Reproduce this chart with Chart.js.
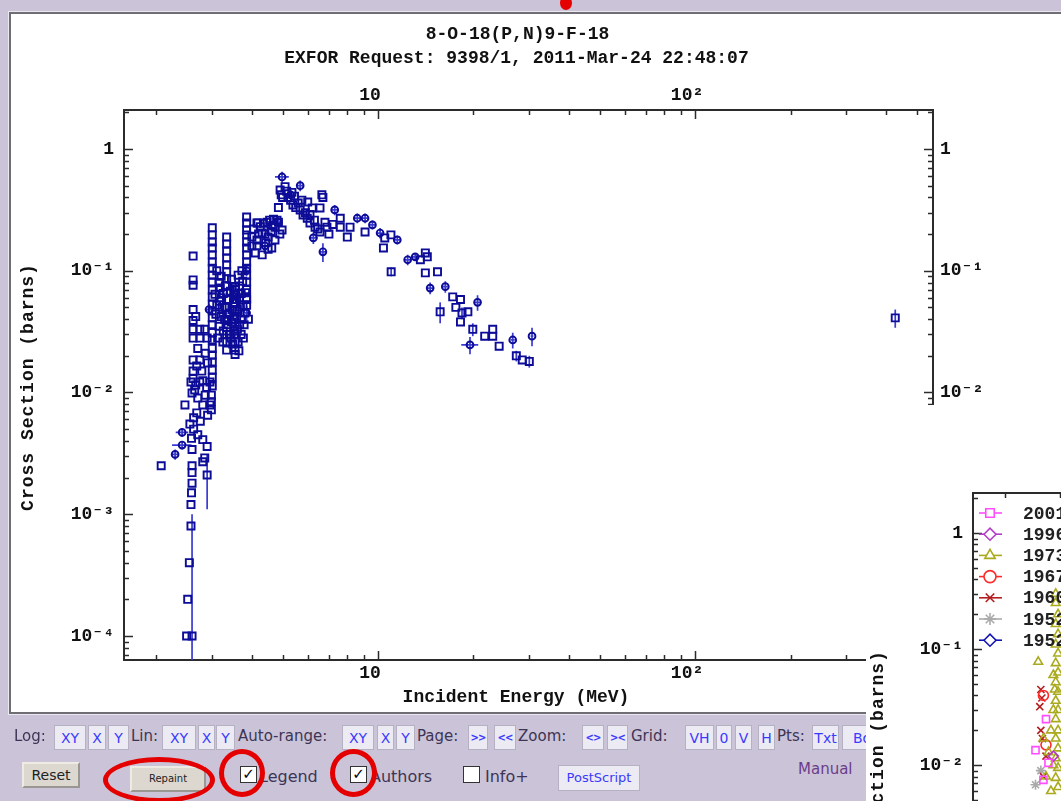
<!DOCTYPE html>
<html>
<head>
<meta charset="utf-8">
<script src="https://cdn.jsdelivr.net/npm/chart.js@4.4.1/dist/chart.umd.min.js"></script>
<style>
  body { margin: 0; width: 1061px; height: 801px; overflow: hidden; position: relative; background: #cbc3d7; font-family: 'DejaVu Sans', sans-serif }
  .abs { position: absolute }
  #panel { left: 9px; top: 12px; width: 1100px; height: 698px; background: #fff; border: 2px solid #6e6e74; box-shadow: 0 0 0 1px #ebe8f0 }
  .mono { font-family: 'Liberation Mono', 'DejaVu Sans Mono', monospace; font-weight: bold; font-size: 18px; line-height: 20px; color: #111; white-space: nowrap }
  .lbl { top: 727px; font-size: 15px; color: #3d3556; white-space: nowrap }
  .btn { top: 725px; height: 25px; line-height: 24px; text-align: center; background: #eceaf2; border: 1px solid #b5b1c2; color: #3a3aff; font-size: 14px; box-sizing: border-box; white-space: nowrap; overflow: hidden }
  .btn.small { font-size: 10px; font-weight: bold; letter-spacing: -1px }
  .gbtn { background: #dcd8d0; border: 2px outset #eeeae4; color: #222; text-align: center; box-sizing: border-box }
  .cb { width: 17px; height: 17px; background: #fff; border: 1px solid #333; box-sizing: border-box; font-size: 15px; line-height: 15px; text-align: center; color: #000; font-weight: bold }
  .ring { border: 5px solid #e40000; border-radius: 50%; box-sizing: border-box }
</style>
</head>
<body>
<div id="panel" class="abs"></div>
<canvas id="main" class="abs" style="left:0;top:0" width="1061" height="714"></canvas>

<div class="abs mono" style="left:0;width:1035px;top:24px;text-align:center">8-O-18(P,N)9-F-18</div>
<div class="abs mono" style="left:0;width:1033px;top:48px;text-align:center">EXFOR Request: 9398/1, 2011-Mar-24 22:48:07</div>
<div class="abs mono" style="left:366px;width:300px;top:687px;text-align:center">Incident Energy (MeV)</div>
<div class="abs mono" style="left:-122px;width:300px;top:377px;text-align:center;letter-spacing:1px;transform:rotate(-90deg)">Cross Section (barns)</div>

<div id="controls"></div>

<div class="abs gbtn" style="left:22px;top:762px;width:58px;height:26px;line-height:22px;font-size:14px">Reset</div>
<div class="abs gbtn" style="left:130px;top:766px;width:76px;height:26px;line-height:22px;font-size:10px">Repaint</div>
<div class="abs cb" style="left:240px;top:766px">✓</div>
<div class="abs" style="left:259px;top:767px;font-size:16px;color:#3d3556">Legend</div>
<div class="abs cb" style="left:350px;top:766px">✓</div>
<div class="abs" style="left:370px;top:767px;font-size:16px;color:#3d3556">Authors</div>
<div class="abs cb" style="left:463px;top:766px"></div>
<div class="abs" style="left:485px;top:767px;font-size:16px;color:#3d3556">Info+</div>
<div class="abs btn" style="left:558px;top:765px;width:82px;height:26px;font-size:13px">PostScript</div>
<div class="abs" style="left:798px;top:760px;font-size:15px;color:#6a3d8c">Manual</div>

<div class="abs ring" style="left:103px;top:757px;width:112px;height:46px"></div>
<div class="abs ring" style="left:219px;top:749px;width:46px;height:48px"></div>
<div class="abs ring" style="left:330px;top:749px;width:47px;height:48px"></div>
<div class="abs" style="left:560px;top:-4px;width:12px;height:14px;background:#e40000;border-radius:50%"></div>

<div id="inset" class="abs" style="left:866px;top:405px;width:195px;height:396px;background:#fff;overflow:hidden">
  <canvas id="small" class="abs" style="left:0;top:0" width="700" height="600"></canvas>
  <div class="abs mono" style="left:-118px;width:260px;top:359px;text-align:center;letter-spacing:1px;transform:rotate(-90deg)">Cross Section (barns)</div>
</div>

<script>
// main plot: energy (MeV) / cross section (b)
const squares = [
  [2.07, 0.0025], [2.59, 0.0025], [2.59, 0.0022], [2.59, 0.0018], [2.58, 0.0015], [2.57, 0.0012], [2.57, 0.0008],
  [2.54, 0.0004], [2.51, 0.0002], [2.49, 0.0001], [2.59, 0.0034], [2.57, 0.0122], [2.74, 0.0122], [2.95, 0.0122],
  [2.59, 0.0099], [2.46, 0.0079], [2.80, 0.0079], [2.95, 0.0079], [2.68, 0.0068], [2.80, 0.0041], [2.89, 0.0036],
  [2.84, 0.0029], [2.80, 0.0027], [2.64, 0.0105], [2.70, 0.009], [2.85, 0.0095], [2.62, 0.0062], [2.75, 0.0058],
  [2.90, 0.0065], [2.55, 0.0055], [2.62, 0.005], [2.70, 0.0045], [2.58, 0.0042], [2.66, 0.0115], [2.88, 0.011],
  [2.61, 0.132], [2.61, 0.084], [2.61, 0.076], [2.61, 0.048], [2.61, 0.039], [2.61, 0.033], [2.61, 0.028],
  [2.61, 0.0185], [2.61, 0.015], [2.61, 0.013], [2.74, 0.033], [2.84, 0.033], [2.74, 0.028], [2.89, 0.028],
  [2.74, 0.0185], [2.78, 0.015], [2.66, 0.042], [2.70, 0.023], [2.68, 0.0165], [2.85, 0.021], [2.90, 0.0175], [2.80, 0.0125],
  [3.0, 0.225], [3.0, 0.197], [3.0, 0.172], [3.0, 0.154], [3.0, 0.135], [3.0, 0.118], [3.0, 0.105], [3.0, 0.092],
  [3.0, 0.081], [3.0, 0.0695], [3.0, 0.061], [3.0, 0.053], [3.0, 0.047], [3.0, 0.041], [3.0, 0.036], [3.0, 0.031],
  [3.0, 0.027], [3.0, 0.023], [3.0, 0.0203], [3.0, 0.0178], [3.0, 0.0153], [3.0, 0.0133], [3.0, 0.0113],
  [2.98, 0.0095], [2.98, 0.0084], [2.98, 0.0072],
  [3.33, 0.189], [3.33, 0.166], [3.33, 0.145], [3.33, 0.127], [3.33, 0.112], [3.33, 0.098], [3.33, 0.086], [3.33, 0.075],
  [3.33, 0.066], [3.33, 0.058], [3.33, 0.05], [3.33, 0.044], [3.33, 0.039], [3.33, 0.034], [3.33, 0.03], [3.33, 0.026], [3.33, 0.0223],
  [3.54, 0.073], [3.54, 0.063], [3.54, 0.054], [3.54, 0.047], [3.54, 0.04], [3.54, 0.035], [3.54, 0.03], [3.54, 0.026],
  [3.54, 0.0223], [3.54, 0.0205],
  [3.85, 0.276], [3.85, 0.247], [3.85, 0.216], [3.85, 0.197], [3.85, 0.172], [3.85, 0.154], [3.85, 0.135], [3.85, 0.118],
  [3.85, 0.105], [3.85, 0.092], [3.85, 0.081], [3.85, 0.07], [3.85, 0.06], [3.85, 0.052],
  [3.1, 0.1], [3.2, 0.09], [3.15, 0.08], [3.25, 0.065], [3.2, 0.06], [3.1, 0.052], [3.3, 0.05], [3.2, 0.042], [3.15, 0.035],
  [3.4, 0.045], [3.4, 0.03], [3.45, 0.085], [3.45, 0.038], [3.5, 0.055], [3.5, 0.04], [3.48, 0.025], [3.55, 0.07],
  [3.6, 0.048], [3.6, 0.033], [3.62, 0.026], [3.65, 0.075], [3.65, 0.06], [3.7, 0.065], [3.7, 0.04], [3.7, 0.03],
  [3.75, 0.052], [3.8, 0.045], [3.85, 0.058], [3.3, 0.075], [3.25, 0.032], [3.12, 0.028], [3.38, 0.058], [3.58, 0.058],
  [3.78, 0.036], [3.68, 0.05], [3.42, 0.068], [3.18, 0.072], [3.28, 0.04], [3.52, 0.032], [3.9, 0.04], [3.62, 0.092], [3.72, 0.1],
  [3.08, 0.044], [3.22, 0.05], [3.36, 0.036], [3.46, 0.048], [3.58, 0.042], [3.66, 0.036], [3.76, 0.028], [3.44, 0.028],
  [3.24, 0.026], [3.64, 0.022], [3.56, 0.064], [3.74, 0.082], [3.82, 0.066], [3.16, 0.056], [3.06, 0.064],
  [4.15, 0.247], [4.18, 0.247], [4.35, 0.245], [4.47, 0.25], [4.55, 0.26], [4.68, 0.265], [4.73, 0.228], [4.85, 0.25],
  [4.98, 0.216], [4.31, 0.204], [4.5, 0.189], [4.73, 0.179], [4.15, 0.179], [4.62, 0.154], [4.31, 0.135], [4.15, 0.16],
  [4.5, 0.15], [4.4, 0.2], [4.05, 0.22], [4.0, 0.19], [4.25, 0.23], [4.9, 0.2], [4.8, 0.26], [4.0, 0.16], [4.1, 0.14],
  [4.6, 0.21], [4.42, 0.17], [4.2, 0.2], [4.65, 0.235],
  [4.91, 0.46], [5.09, 0.49], [5.0, 0.4], [5.2, 0.4], [5.35, 0.44], [5.39, 0.347], [4.85, 0.33], [5.68, 0.316],
  [5.8, 0.287], [6.0, 0.367], [6.2, 0.328], [6.65, 0.42], [6.7, 0.4], [6.56, 0.328], [5.98, 0.27], [6.1, 0.247],
  [6.33, 0.228], [6.56, 0.208], [6.9, 0.228], [7.6, 0.27], [7.6, 0.228], [8.0, 0.189], [8.16, 0.228], [9.1, 0.208],
  [10.5, 0.186], [10.4, 0.154], [10.98, 0.197], [13.6, 0.123], [14.1, 0.14], [14.3, 0.13], [14.1, 0.096], [15.4, 0.098],
  [17.2, 0.061], [18.2, 0.058], [17.6, 0.05], [19.2, 0.046], [18.2, 0.038], [21.7, 0.029], [23.0, 0.033], [23.0, 0.029],
  [24.1, 0.024], [28.5, 0.0185], [5.5, 0.33], [5.9, 0.3], [6.3, 0.26], [6.8, 0.25], [7.0, 0.2], [5.6, 0.36],
  [6.45, 0.22], [7.2, 0.24], [6.1, 0.29], [5.3, 0.38], [5.15, 0.45], [4.95, 0.42], [5.45, 0.41], [5.75, 0.38]
]
// squares with a visible vertical error: energy, cross section, error
const squaresErr = [
  [2.59, 0.0001, 0.0009], [2.89, 0.0021, 0.001], [11.0, 0.098, 0.008], [15.7, 0.046, 0.009], [18.4, 0.045, 0.005],
  [19.9, 0.033, 0.004], [27.3, 0.02, 0.002], [30.0, 0.018, 0.002], [428, 0.041, 0.007]
]
// points with energy and cross section errors: energy, cross section, dE, dS
const crosses = [
  [4.98, 0.589, 0.25, 0.06], [5.68, 0.5, 0.12, 0.05], [5.3, 0.42, 0.12, 0.04], [4.85, 0.25, 0.12, 0.03], [4.4, 0.16, 0.15, 0.02],
  [2.41, 0.0047, 0.11, 0.0004], [2.41, 0.0037, 0.17, 0.0003], [2.29, 0.0031, 0.06, 0.0003], [2.93, 0.048, 0.06, 0.005],
  [3.85, 0.045, 0.08, 0.006], [3.85, 0.1, 0.08, 0.01], [6.25, 0.186, 0.2, 0.02], [6.7, 0.143, 0.15, 0.025],
  [7.3, 0.316, 0.2, 0.03], [8.6, 0.27, 0.2, 0.025], [9.1, 0.27, 0.2, 0.025], [9.6, 0.238, 0.2, 0.02], [10.15, 0.204, 0.2, 0.02],
  [11.5, 0.179, 0.3, 0.015], [12.4, 0.123, 0.3, 0.012], [13.1, 0.13, 0.3, 0.01], [14.6, 0.072, 0.3, 0.008],
  [16.3, 0.074, 0.3, 0.008], [20.6, 0.055, 0.4, 0.008], [19.5, 0.0246, 1.2, 0.004], [26.6, 0.027, 0.4, 0.004], [30.6, 0.029, 0.3, 0.005]
]

// inset (second plot, partly visible)
const years = ['2001', '1996', '1973', '1967', '1960', '1952', '1952']
const pts2001 = [[2.7, 0.025], [2.5, 0.0135], [2.75, 0.0105], [2.65, 0.0075]]
const pts1996 = [[2.85, 0.012]]
const pts1973 = [
  [2.55, 0.078], [2.9, 0.3], [2.9, 0.25], [2.95, 0.2], [2.9, 0.165], [2.95, 0.135], [2.9, 0.11], [2.95, 0.092], [2.9, 0.076],
  [2.95, 0.063], [2.9, 0.052], [2.95, 0.043], [2.9, 0.036], [2.95, 0.03], [2.9, 0.025], [2.95, 0.02], [2.9, 0.017],
  [2.95, 0.014], [2.9, 0.0115], [2.95, 0.0095], [2.9, 0.0078], [2.95, 0.0065], [2.85, 0.03], [2.8, 0.02], [2.75, 0.013],
  [2.85, 0.01], [2.7, 0.008], [2.8, 0.006], [2.65, 0.017], [2.88, 0.045], [2.85, 0.06]
]
const pts1967 = [[2.65, 0.04], [2.7, 0.015]]
const pts1960 = [[2.6, 0.045], [2.62, 0.038], [2.58, 0.032], [2.6, 0.02], [2.63, 0.017], [2.7, 0.012], [2.65, 0.008]]
const pts1952a = [[2.5, 0.0068], [2.6, 0.009]]
const pts1952b = []

const xRange = [1.58, 563]
const yRange = [6.35e-5, 2.09]

const monoFont = { family: "'Liberation Mono', 'DejaVu Sans Mono', monospace", size: 18, weight: 'bold' }
const sup = { '-': '⁻', '0': '⁰', '1': '¹', '2': '²', '3': '³', '4': '⁴', '5': '⁵', '6': '⁶', '7': '⁷', '8': '⁸', '9': '⁹' }

function powLabel(v) {
  const e = Math.round(Math.log10(v))
  if (e === 0) return '1'
  if (e === 1) return '10'
  return '10' + String(e).split('').map(c => sup[c]).join('')
}

function decadeTicks(s) {
  const t = []
  for (let e = Math.ceil(Math.log10(s.min) - 1e-9); Math.pow(10, e) <= s.max * 1.0001; e++) t.push({ value: Math.pow(10, e) })
  s.ticks = t
}

function logAxis(pos, range, size, pad, offset, show) {
  return {
    type: 'logarithmic', position: pos, min: range[0], max: range[1],
    grid: { display: true, drawOnChartArea: false, drawTicks: false },
    border: { display: true, color: '#2b2b2b', width: 2 },
    ticks: { display: show, autoSkip: false, maxRotation: 0, padding: pad, labelOffset: offset, font: monoFont, color: '#111', callback: powLabel },
    afterBuildTicks: decadeTicks,
    afterFit: s => { if (s.isHorizontal()) s.height = size; else s.width = size }
  }
}

// inward tick marks on every axis (majors at decades, minors at 2..9)
const tickMarks = {
  id: 'tickMarks',
  afterDatasetsDraw(chart) {
    const { ctx, chartArea: a } = chart
    ctx.save()
    ctx.strokeStyle = '#2b2b2b'
    ctx.lineWidth = 1.5
    Object.values(chart.scales).forEach(s => {
      const lo = Math.floor(Math.log10(s.min)), hi = Math.ceil(Math.log10(s.max))
      for (let d = lo; d <= hi; d++) {
        for (let k = 1; k < 10; k++) {
          const v = k * Math.pow(10, d)
          if (v < s.min || v > s.max) continue
          const p = Math.round(s.getPixelForValue(v)) + 0.5
          const len = k === 1 ? 9 : 5
          ctx.beginPath()
          if (s.position === 'left') { ctx.moveTo(a.left, p); ctx.lineTo(a.left + len, p) }
          if (s.position === 'right') { ctx.moveTo(a.right, p); ctx.lineTo(a.right - len, p) }
          if (s.position === 'top') { ctx.moveTo(p, a.top); ctx.lineTo(p, a.top + len) }
          if (s.position === 'bottom') { ctx.moveTo(p, a.bottom); ctx.lineTo(p, a.bottom - len) }
          ctx.stroke()
        }
      }
    })
    ctx.restore()
  }
}

const errorBars = {
  id: 'errorBars',
  beforeDatasetsDraw(chart) {
    const { ctx, chartArea: a } = chart
    const xs = chart.scales.x, ys = chart.scales.y
    ctx.save()
    ctx.beginPath()
    ctx.rect(a.left, a.top, a.width, a.height)
    ctx.clip()
    ctx.strokeStyle = '#3b3bd2'
    ctx.lineWidth = 1.7
    chart.data.datasets.forEach(ds => {
      ds.data.forEach(p => {
        const px = xs.getPixelForValue(p.x), py = ys.getPixelForValue(p.y)
        ctx.beginPath()
        if (p.dy) {
          const lo = p.y - p.dy > 0 ? ys.getPixelForValue(p.y - p.dy) : a.bottom
          ctx.moveTo(px, lo)
          ctx.lineTo(px, ys.getPixelForValue(p.y + p.dy))
        }
        if (p.dx) {
          ctx.moveTo(xs.getPixelForValue(p.x - p.dx), py)
          ctx.lineTo(xs.getPixelForValue(p.x + p.dx), py)
        }
        ctx.stroke()
      })
    })
    ctx.restore()
  }
}

const blue = '#0c0c98'

new Chart(document.getElementById('main'), {
  type: 'scatter',
  data: {
    datasets: [{
      data: squares.map(([x, y]) => ({ x, y })),
      pointStyle: 'rect', pointRadius: 5, borderColor: blue, backgroundColor: 'rgba(255,255,255,0)', borderWidth: 1.9
    }, {
      data: squaresErr.map(([x, y, dy]) => ({ x, y, dy })),
      pointStyle: 'rect', pointRadius: 5, borderColor: blue, backgroundColor: 'rgba(255,255,255,0)', borderWidth: 1.9
    }, {
      data: crosses.map(([x, y, dx, dy]) => ({ x, y, dx, dy })),
      pointStyle: 'circle', pointRadius: 3.4, borderColor: blue, backgroundColor: 'rgba(255,255,255,0)', borderWidth: 1.9
    }]
  },
  options: {
    responsive: false,
    animation: false,
    layout: { padding: 0 },
    plugins: { legend: { display: false }, tooltip: { enabled: false } },
    scales: {
      x: logAxis('bottom', xRange, 54, 3, -8, true),
      xTop: logAxis('top', xRange, 110, 4, -8, true),
      y: logAxis('left', yRange, 124, 10, 0, true),
      yRight: logAxis('right', yRange, 128, 7, 0, true)
    }
  },
  plugins: [errorBars, tickMarks]
})

// legend drawn inside the inset's plot area
const insetLegend = {
  id: 'insetLegend',
  afterDatasetsDraw(chart) {
    const { ctx, chartArea: a } = chart
    ctx.save()
    chart.data.datasets.forEach((ds, i) => {
      const y = a.top + 20 + i * 21.2
      ctx.strokeStyle = ds.borderColor
      ctx.lineWidth = 1.6
      ctx.beginPath()
      ctx.moveTo(a.left + 6, y)
      ctx.lineTo(a.left + 29, y)
      ctx.stroke()
      ctx.fillStyle = '#fff'
      Chart.helpers.drawPoint(ctx, { pointStyle: ds.pointStyle, radius: 6, rotation: 0, borderWidth: 1.6 }, a.left + 17, y)
      ctx.fillStyle = '#222'
      ctx.font = "bold 18px 'Liberation Mono', monospace"
      ctx.textBaseline = 'middle'
      ctx.fillText(ds.label, a.left + 50, y + 1)
    })
    ctx.restore()
  }
}

const insetPts = [pts2001, pts1996, pts1973, pts1967, pts1960, pts1952a, pts1952b]
const insetColors = ['#ff4dff', '#b43cc8', '#aaaa1e', '#ff2a2a', '#b41e1e', '#aaaaaa', '#1414b4']
const insetStyles = ['rect', 'rectRot', 'triangle', 'circle', 'crossRot', 'star', 'rectRot']

new Chart(document.getElementById('small'), {
  type: 'scatter',
  data: {
    datasets: years.map((yr, i) => ({
      label: yr,
      data: insetPts[i].map(([x, y]) => ({ x, y })),
      pointStyle: insetStyles[i], pointRadius: 5, borderWidth: 1.6,
      borderColor: insetColors[i], backgroundColor: 'rgba(255,255,255,0)'
    }))
  },
  options: {
    responsive: false,
    animation: false,
    layout: { padding: 0 },
    plugins: { legend: { display: false }, tooltip: { enabled: false } },
    scales: {
      x: logAxis('top', [1.58, 117], 88, 4, 0, false),
      y: logAxis('left', [1.3e-4, 2.22], 107, 10, 0, true)
    }
  },
  plugins: [tickMarks, insetLegend]
})

// control bar (HTML widgets)
const row1 = [
  ['t', 'Log:', 14], ['b', 'XY', 54, 32], ['b', 'X', 88, 18], ['b', 'Y', 108, 21],
  ['t', 'Lin:', 131], ['b', 'XY', 162, 34], ['b', 'X', 198, 17], ['b', 'Y', 216, 19],
  ['t', 'Auto-range:', 238], ['b', 'XY', 342, 32], ['b', 'X', 377, 17], ['b', 'Y', 396, 19],
  ['t', 'Page:', 417], ['s', '>>', 468, 20], ['s', '<<', 494, 22],
  ['t', 'Zoom:', 518], ['s', '<>', 582, 22], ['s', '><', 607, 21],
  ['t', 'Grid:', 631], ['b', 'VH', 685, 29], ['b', '0', 716, 16], ['b', 'V', 735, 17], ['b', 'H', 758, 17],
  ['t', 'Pts:', 777], ['b', 'Txt', 812, 27], ['b', 'Bo', 842, 40]
]
const controls = document.getElementById('controls')
row1.forEach(([kind, text, left, w]) => {
  const el = document.createElement('div')
  el.className = 'abs ' + (kind === 't' ? 'lbl' : kind === 's' ? 'btn small' : 'btn')
  el.style.left = left + 'px'
  if (w) el.style.width = w + 'px'
  el.textContent = text
  controls.appendChild(el)
})
</script>
</body>
</html>
